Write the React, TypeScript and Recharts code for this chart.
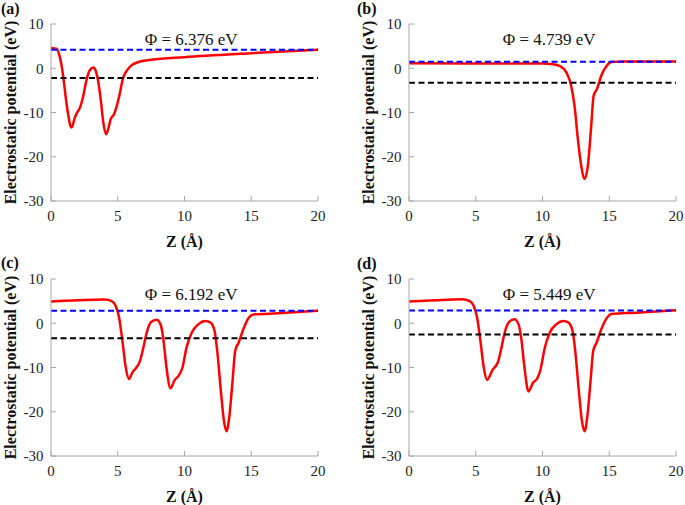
import React from "react";
import {
  LineChart,
  Line,
  XAxis,
  YAxis,
  ReferenceLine,
  ReferenceDot,
} from "recharts";

// Z positions (Å) and potential values (eV)
const zA = [0, 0.42, 0.67, 0.8, 0.97, 1.12, 1.3, 1.47, 1.55, 1.75, 1.92, 2.17, 2.42, 2.67, 2.92, 3.17, 3.35, 3.55, 3.75, 3.92, 4.12, 4.3, 4.47, 4.72, 4.92, 5.17, 5.37, 5.67, 6.05, 6.55, 7.5, 10, 15, 20];
const vA = [4.6, 4.4, 2.4, 0.5, -3.2, -7, -10.7, -13.2, -13.4, -11.5, -10.2, -8.9, -6.2, -2.5, -0.4, 0.15, -0.6, -3.2, -7.7, -12.3, -14.9, -13.6, -11.5, -10.4, -8.6, -5.5, -2.5, -0.6, 0.7, 1.4, 1.9, 2.5, 3.4, 4.2];

const zB = [0, 5, 10, 10.8, 11.3, 11.8, 12.15, 12.4, 12.65, 12.9, 13.15, 13.4, 13.65, 13.83, 14.08, 14.4, 14.8, 15.15, 16, 20];
const vB = [1.15, 1.1, 1.05, 0.9, 0.5, -1, -4, -8.5, -16, -22, -25, -22, -13, -6.2, -4.7, -1.7, 0.5, 1.4, 1.5, 1.5];

const zC = [0, 2, 4, 4.55, 4.85, 5.1, 5.35, 5.6, 5.85, 6.1, 6.35, 6.67, 6.92, 7.17, 7.5, 7.9, 8.2, 8.4, 8.65, 8.95, 9.25, 9.55, 9.85, 10.15, 10.55, 11.05, 11.55, 11.95, 12.25, 12.45, 12.7, 12.95, 13.15, 13.35, 13.6, 13.8, 14.05, 14.4, 14.8, 15.15, 17, 20];
const vC = [4.9, 5.2, 5.35, 5.0, 3.9, 1.3, -4, -10, -12.6, -11.1, -10.2, -8.5, -5.5, -2.1, 0.3, 0.8, -0.2, -3.2, -10, -14.7, -12.9, -11.9, -10, -5.5, -2.1, -0.2, 0.5, 0.15, -1.7, -6.2, -14.5, -22, -24.4, -21.3, -13, -6.2, -4.4, -1.4, 1.2, 2.0, 2.25, 2.8];

const zD = [0, 2, 4, 4.55, 4.85, 5.1, 5.35, 5.6, 5.85, 6.25, 6.67, 6.92, 7.17, 7.5, 7.9, 8.2, 8.4, 8.65, 8.95, 9.3, 9.6, 9.85, 10.15, 10.55, 11.05, 11.55, 11.95, 12.25, 12.45, 12.7, 12.95, 13.15, 13.35, 13.6, 13.8, 14.05, 14.4, 14.8, 15.15, 17, 20];
const vD = [4.9, 5.2, 5.4, 5.0, 3.9, 1.3, -4, -10, -12.8, -10.6, -8.7, -5.6, -2.1, 0.3, 0.9, -0.2, -3.2, -10, -15.4, -13.4, -12.5, -10.5, -5.8, -2.1, -0.2, 0.5, 0.15, -1.7, -6.2, -14.5, -22, -24.4, -21.3, -13, -6.2, -4.4, -1.4, 1.1, 2.1, 2.4, 2.95];

// vacuum level, Fermi level, work function
const vacuumLevels = [4.2, 1.45, 2.8, 2.9];
const fermiLevels = [-2.18, -3.29, -3.39, -2.55];
const phiLabels = ["Φ = 6.376 eV", "Φ = 4.739 eV", "Φ = 6.192 eV", "Φ = 5.449 eV"];
const panelLetters = ["(a)", "(b)", "(c)", "(d)"];

const zTicks = [0, 5, 10, 15, 20];
const vTicks = [-30, -20, -10, 0, 10];

const FONT = "Liberation Serif, DejaVu Serif, serif";
const FRAME = "#a6a6a6";

function Panel({ z, v, vac, ef, phi }: { z: number[]; v: number[]; vac: number; ef: number; phi: string }) {
  const data = z.map((zz, i) => ({ z: zz, v: v[i] }));
  const tickStyle = { fontSize: 15, fontFamily: FONT, fill: "#222" };
  return (
    <LineChart width={340} height={250} data={data} margin={{ top: 24, right: 22, left: 0, bottom: 0 }} style={{ fontFamily: FONT }}>
      <XAxis
        dataKey="z"
        type="number"
        domain={[0, 20]}
        ticks={zTicks}
        height={49}
        stroke={FRAME}
        tickSize={-5}
        tickMargin={14}
        tick={tickStyle}
        label={{
          content: (p: any) => {
            const vb = p.viewBox;
            return (
              <text x={vb.x + vb.width / 2} y={vb.y + 45.5} textAnchor="middle" style={{ fontFamily: FONT }} fontWeight="bold" fontSize={16} fill="#111">
                Z (Å)
              </text>
            );
          },
        }}
      />
      <XAxis xAxisId="top" orientation="top" type="number" domain={[0, 20]} ticks={zTicks} height={0} stroke={FRAME} tickSize={-5} tick={false} />
      <YAxis
        type="number"
        domain={[-30, 10]}
        ticks={vTicks}
        width={51}
        stroke={FRAME}
        tickSize={-5}
        tickMargin={12.5}
        tick={tickStyle}
        allowDataOverflow
        label={{
          content: (p: any) => {
            const vb = p.viewBox;
            const cx = vb.x + 10.5;
            const cy = vb.y + vb.height / 2;
            return (
              <text x={cx} y={cy} transform={`rotate(-90 ${cx} ${cy})`} textAnchor="middle" dominantBaseline="central" style={{ fontFamily: FONT }} fontWeight="bold" fontSize={16} fill="#111">
                Electrostatic potential (eV)
              </text>
            );
          },
        }}
      />
      <YAxis yAxisId="right" orientation="right" type="number" domain={[-30, 10]} ticks={vTicks} width={0} stroke={FRAME} tickSize={-5} tick={false} />
      <Line type="monotone" dataKey="v" stroke="#ff0000" strokeWidth={2.5} dot={false} isAnimationActive={false} />
      <ReferenceLine y={vac} stroke="#0000ff" strokeWidth={2} strokeDasharray="6 3.5" />
      <ReferenceLine y={ef} stroke="#000000" strokeWidth={2} strokeDasharray="6 3.5" />
      <ReferenceDot
        x={10.5}
        y={6.7}
        r={0}
        stroke="none"
        fill="none"
        label={{ value: phi, position: "center", fontSize: 17, fontFamily: FONT, fill: "#111" }}
      />
    </LineChart>
  );
}

const panels = [
  { z: zA, v: vA, left: 0, top: 0, letterLeft: 1, letterTop: 2 },
  { z: zB, v: vB, left: 358, top: 0, letterLeft: 357, letterTop: 2 },
  { z: zC, v: vC, left: 0, top: 255, letterLeft: 1, letterTop: 256 },
  { z: zD, v: vD, left: 358, top: 255, letterLeft: 357, letterTop: 257 },
];

export default function App() {
  return (
    <div style={{ position: "absolute", left: 0, top: 0, width: 685, height: 505, background: "#fff", overflow: "hidden", fontFamily: FONT }}>
      {panels.map((p, i) => (
        <div key={i} style={{ position: "absolute", left: p.left, top: p.top }}>
          <Panel z={p.z} v={p.v} vac={vacuumLevels[i]} ef={fermiLevels[i]} phi={phiLabels[i]} />
        </div>
      ))}
      {panels.map((p, i) => (
        <span
          key={"l" + i}
          style={{
            position: "absolute",
            left: p.letterLeft,
            top: p.letterTop,
            fontFamily: FONT,
            fontWeight: "bold",
            fontSize: 16,
            lineHeight: "13px",
            color: "#111",
          }}
        >
          {panelLetters[i]}
        </span>
      ))}
    </div>
  );
}
